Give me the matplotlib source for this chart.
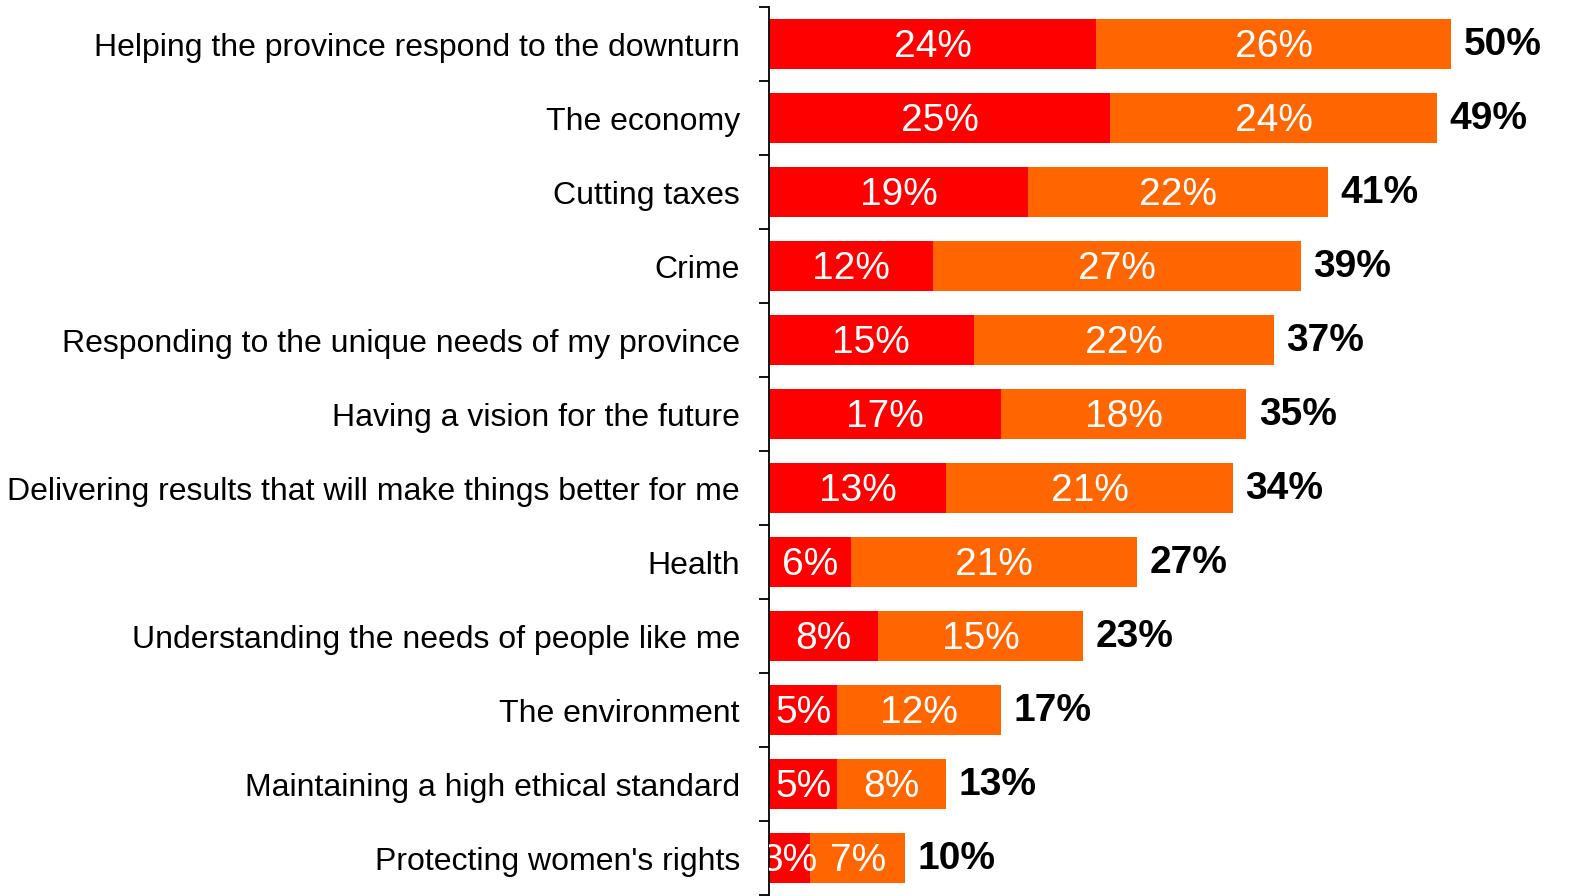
import matplotlib.pyplot as plt
import numpy as np

# Values
categories = [
    "Helping the province respond to the downturn",
    "The economy",
    "Cutting taxes",
    "Crime",
    "Responding to the unique needs of my province",
    "Having a vision for the future",
    "Delivering results that will make things better for me",
    "Health",
    "Understanding the needs of people like me",
    "The environment",
    "Maintaining a high ethical standard",
    "Protecting women's rights",
]
first_choice = [24, 25, 19, 12, 15, 17, 13, 6, 8, 5, 5, 3]
second_choice = [26, 24, 22, 27, 22, 18, 21, 21, 15, 12, 8, 7]
totals = [50, 49, 41, 39, 37, 35, 34, 27, 23, 17, 13, 10]

RED = "#FF0000"
ORANGE = "#FF6600"

plt.rcParams["font.family"] = ["Liberation Sans", "DejaVu Sans"]


def main():
    fig = plt.figure(figsize=(15.79, 8.96), dpi=100)
    ax = fig.add_axes([769 / 1579, 1 / 896, 806 / 1579, 888 / 896])

    y = np.arange(len(categories))
    ax.barh(y, first_choice, height=0.67, color=RED)
    ax.barh(y, second_choice, left=first_choice, height=0.67, color=ORANGE)

    # labels inside the segments, then the bold totals
    for i in range(len(categories)):
        ax.annotate(f"{first_choice[i]}%", (first_choice[i] / 2, y[i]),
                    xytext=(0, -2.5), textcoords="offset points",
                    ha="center", va="center", color="white", fontsize=28,
                    annotation_clip=False, clip_on=True)
        ax.annotate(f"{second_choice[i]}%",
                    (first_choice[i] + second_choice[i] / 2, y[i]),
                    xytext=(0, -2.5), textcoords="offset points",
                    ha="center", va="center", color="white", fontsize=28,
                    annotation_clip=False, clip_on=True)
        ax.annotate(f"{totals[i]}%", (totals[i], y[i]), xytext=(9, -1),
                    textcoords="offset points", ha="left", va="center",
                    fontsize=28, fontweight="bold", color="black",
                    annotation_clip=False)

    ax.set_xlim(0, 59.1)
    ax.set_ylim(len(categories) - 0.5, -0.5)

    ax.set_yticks(y)
    ax.set_yticklabels(categories, fontsize=23)
    ax.set_yticks(np.arange(len(categories) + 1) - 0.5, minor=True)
    ax.tick_params(axis="y", which="major", length=0, pad=21)
    ax.tick_params(axis="y", which="minor", length=7, width=1.3,
                   direction="out", color="black")
    ax.set_xticks([])

    for side in ["top", "right", "bottom"]:
        ax.spines[side].set_visible(False)
    ax.spines["left"].set_linewidth(1.3)
    ax.spines["left"].set_color("black")

    fig.savefig("out.png", dpi=100)


if __name__ == "__main__":
    main()
